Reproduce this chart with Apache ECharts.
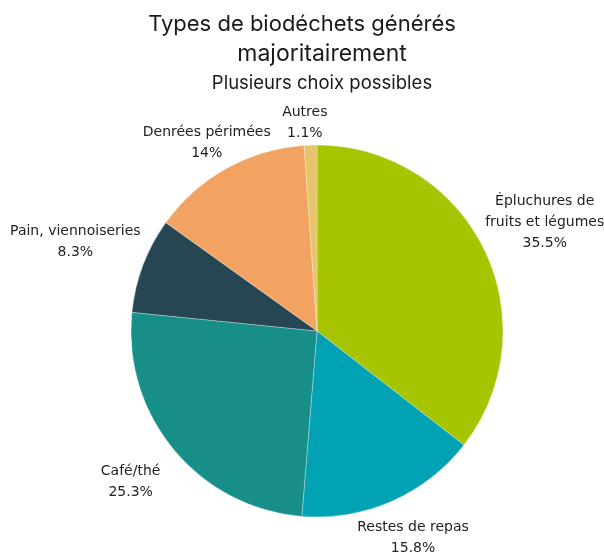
<!DOCTYPE html>
<html><head><meta charset="utf-8">
<script src="https://cdn.jsdelivr.net/npm/echarts@6/dist/echarts.min.js"></script>
<style>html,body{margin:0;padding:0;background:#fff}#c{width:604px;height:553px}</style>
</head><body><div id="c"></div>
<script>
const titleLine1 = 'Types de biodéchets générés';
const titleLine2 = 'majoritairement';
const subtitle = 'Plusieurs choix possibles';
const categories = ['Épluchures de\nfruits et légumes', 'Restes de repas', 'Café/thé', 'Pain, viennoiseries', 'Denrées périmées', 'Autres'];
const values = [35.5, 15.8, 25.3, 8.3, 14, 1.1];
const colors = ['#a6c500', '#00a2b3', '#178f88', '#264653', '#f2a261', '#e6c46a'];
const labelDistances = [62, 40, 50, 67, 30, 22];

const tStyle = { fontFamily: 'Inter', fontSize: 22, fontWeight: 'normal', color: '#1a1a1a' };
const chart = echarts.init(document.getElementById('c'));
chart.setOption({
  animation: false,
  title: [
    { text: titleLine1, left: 'center', top: 8, textStyle: tStyle },
    { text: titleLine2, subtext: subtitle, left: 317, textAlign: 'center', top: 38, itemGap: 8,
      textStyle: Object.assign({}, tStyle, { fontSize: 23 }),
      subtextStyle: { fontFamily: 'Inter', fontSize: 18.5, color: '#1a1a1a' } }
  ],
  series: [{
    type: 'pie',
    center: [317, 331],
    radius: 186,
    startAngle: 90,
    clockwise: true,
    avoidLabelOverlap: false,
    itemStyle: { borderColor: 'rgba(255,255,255,0.6)', borderWidth: 0.5 },
    label: {
      show: true, position: 'outside', overflow: 'none',
      fontFamily: 'DejaVu Sans', fontSize: 14, color: '#222', lineHeight: 21,
      formatter: p => p.name + '\n' + p.value + '%'
    },
    labelLine: { show: false, length: 30, length2: 0 },
    labelLayout: function () { return { align: 'center', verticalAlign: 'middle' }; },
    data: categories.map((c, i) => ({
      name: c, value: values[i], itemStyle: { color: colors[i] },
      labelLine: { length: labelDistances[i], length2: 0 }
    }))
  }]
});
</script></body></html>
